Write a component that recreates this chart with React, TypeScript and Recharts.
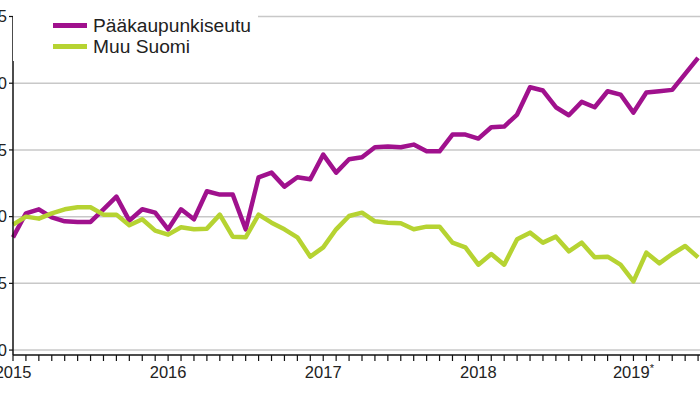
import { LineChart, Line, XAxis, YAxis, ReferenceLine, Legend } from 'recharts';

const YEARS = ['2015', '2016', '2017', '2018', '2019'];
const MONTH_NUMS = ['01', '02', '03', '04', '05', '06', '07', '08', '09', '10', '11', '12'];
const MONTHS = YEARS.flatMap((y) => MONTH_NUMS.map((m) => `${y}M${m}`)).slice(0, 54);

// index, 2015 = 100
const CAPITAL = [
  98.45, 100.25, 100.55, 99.95, 99.65, 99.6, 99.6, 100.55, 101.5, 99.7,
  100.55, 100.3, 99.05, 100.55, 99.8, 101.9, 101.65, 101.65, 99.05, 102.95,
  103.3, 102.25, 102.95, 102.8, 104.65, 103.3, 104.3, 104.45, 105.2, 105.25,
  105.2, 105.4, 104.9, 104.9, 106.15, 106.15, 105.85, 106.7, 106.75, 107.65,
  109.7, 109.45, 108.2, 107.6, 108.6, 108.2, 109.4, 109.15, 107.8, 109.3,
  109.4, 109.5, 110.7, 111.9,
];
const REST = [
  99.4, 100.0, 99.85, 100.25, 100.55, 100.7, 100.7, 100.15, 100.15, 99.35,
  99.8, 98.95, 98.65, 99.2, 99.05, 99.1, 100.15, 98.5, 98.45, 100.15,
  99.55, 99.05, 98.45, 97.0, 97.7, 99.05, 100.05, 100.3, 99.65, 99.55,
  99.5, 99.05, 99.25, 99.25, 98.05, 97.7, 96.4, 97.2, 96.4, 98.3,
  98.8, 98.05, 98.5, 97.4, 98.05, 96.95, 97.0, 96.4, 95.15, 97.3,
  96.5, 97.2, 97.8, 96.95,
];

const Y_TICKS = [90, 95, 100, 105, 110, 115];
const YEAR_LABELS = ['2015', '2016', '2017', '2018', '2019'];
const PRELIMINARY = [false, false, false, false, true];

const SERIES = [
  { key: 'capital', label: 'Pääkaupunkiseutu', color: '#a0118d' },
  { key: 'rest', label: 'Muu Suomi', color: '#b6d332' },
];

const data = MONTHS.map((m, i) => ({ idx: i, month: m, capital: CAPITAL[i], rest: REST[i] }));
const monthTicks = [...MONTHS.map((_, i) => i), MONTHS.length];

const AXIS_FONT = '"Liberation Sans", Arial, sans-serif';

function YearTick(props: any) {
  const { x, y, payload } = props;
  const i = payload.value as number;
  if (i % 12 !== 0 || i / 12 >= YEAR_LABELS.length) return <g />;
  const k = i / 12;
  return (
    <text x={x} y={y} dy={15} textAnchor="middle" fontSize={16.5} fontFamily={AXIS_FONT} fill="#222">
      {YEAR_LABELS[k]}
      {PRELIMINARY[k] && (
        <tspan fontSize={11} dy={-6}>
          *
        </tspan>
      )}
    </text>
  );
}

function LegendBox() {
  return (
    <div style={{ background: '#fff', paddingTop: 11, paddingBottom: 4 }}>
      {SERIES.map((s) => (
        <div key={s.key} style={{ display: 'flex', alignItems: 'center', height: 21 }}>
          <div style={{ width: 34, height: 5, background: s.color, marginLeft: 40, marginRight: 6 }} />
          <span style={{ fontFamily: AXIS_FONT, fontSize: 19.2, color: '#222', lineHeight: '21px' }}>{s.label}</span>
        </div>
      ))}
    </div>
  );
}

export default function App() {
  return (
    <div
      style={{
        position: 'fixed',
        left: 0,
        top: 0,
        width: 700,
        height: 394,
        overflow: 'hidden',
        background: '#fff',
      }}
    >
      <div style={{ position: 'absolute', left: -47, top: 0 }}>
        <LineChart width={760} height={394} data={data} margin={{ top: 16.5, right: 2, bottom: 0, left: 0 }}>
          {Y_TICKS.map((v) => (
            <ReferenceLine key={v} y={v} stroke="#c8c8c8" strokeWidth={1.5} />
          ))}
          <XAxis
            type="number"
            dataKey="idx"
            domain={[0, 54]}
            ticks={monthTicks}
            interval={0}
            height={39}
            axisLine={{ stroke: '#111', strokeWidth: 1.5 }}
            tickLine={{ stroke: '#111', strokeWidth: 1.2 }}
            tickSize={6}
            tick={<YearTick />}
          />
          <YAxis
            type="number"
            domain={[89.63, 115]}
            ticks={Y_TICKS}
            allowDataOverflow
            width={60}
            axisLine={{ stroke: '#111', strokeWidth: 1.5 }}
            tickLine={{ stroke: '#111', strokeWidth: 1.2 }}
            tickSize={4}
            tick={{ fontSize: 16.5, fontFamily: AXIS_FONT, fill: '#222' }}
          />
          <Legend
            layout="horizontal"
            verticalAlign="middle"
            align="center"
            wrapperStyle={{ left: 60, top: 4, width: 245 }}
            content={() => <LegendBox />}
          />
          {SERIES.map((s) => (
            <Line
              key={s.key}
              type="linear"
              dataKey={s.key}
              name={s.label}
              stroke={s.color}
              strokeWidth={4.5}
              strokeLinejoin="round"
              dot={false}
              activeDot={false}
              isAnimationActive={false}
            />
          ))}
        </LineChart>
      </div>
    </div>
  );
}
